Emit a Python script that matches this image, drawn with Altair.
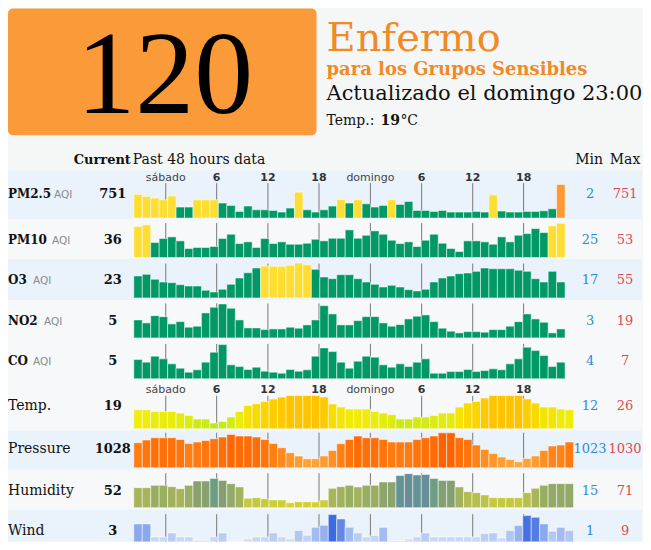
import altair as alt
import pandas as pd

# ---------------- data ----------------
tick_slots = [3.78, 9.8, 15.86, 21.9, 27.98, 34.04, 40.08, 46.1]
tick_labels = ["sábado", "6", "12", "18", "domingo", "6", "12", "18"]
tick_is_day = [True, False, False, False, True, False, False, False]

names = ["PM2.5", "PM10", "O3", "NO2", "CO", "Temp.", "Pressure", "Humidity", "Wind"]
is_aqi = [True, True, True, True, True, False, False, False, False]
current = ["751", "36", "23", "5", "5", "19", "1028", "52", "3"]
mins = ["2", "25", "17", "3", "4", "12", "1023", "15", "1"]
maxs = ["751", "53", "55", "19", "7", "26", "1030", "71", "9"]

pm25 = [23.7, 21.7, 20, 18.3, 22, 11, 11, 18.3, 18.3, 18.3, 15, 12.7, 6.7, 12, 8.3, 8.3, 7.7,
        6, 10, 26, 8.3, 6, 8.3, 12, 18.7, 15, 18.3, 14.3, 11, 12.7, 18.3, 13.7, 16.7, 7.7, 7.7,
        6.7, 7.7, 6, 6, 6, 6.7, 6, 23.3, 7, 6, 6, 6.7, 6.7, 7.3, 9.3, 33.7]
pm25_lvl = ("yyyyy" "gg" "yyy" "ggggggggg" "y" "gggg" "y" "g" "y" "ggg" "y"
            "ggggggggggg" "y" "ggggggg" "o")
pm10 = [31, 32.7, 15, 19, 20.7, 16.7, 9, 10, 10, 11, 19, 23.3, 14, 15.7, 10, 19, 14,
        15.7, 13.3, 13.3, 14.3, 18.3, 16.7, 19.3, 19.3, 27.7, 19.3, 22.3, 26.7, 23.3, 17.3, 14, 15.7, 11, 17.3,
        23.3, 14.3, 9, 6, 16.7, 16.7, 15.7, 13.3, 20.7, 15.7, 22.3, 24, 29, 25, 31.7, 34.3]
pm10_lvl = ("yy" "ggggggggggggggggggggggggggggggggggggggggggggggg" "yy")
o3 = [22, 23.7, 18.7, 16, 15.3, 13.3, 12, 12, 7.7, 6, 8.7, 13.7, 20, 25.3, 30,
      32, 31.7, 31.7, 32.7, 35, 33.3,
      28.7, 21, 19.3, 23.3, 23.3, 19.3, 16, 13.7, 11, 12.7, 11, 8.3, 7, 8.7,
      16, 20, 22, 24.3, 25, 26.7, 30, 29.3, 29.3, 29.3, 27.7, 26.7, 19.3, 16, 26.7, 16]
o3_lvl = ("ggggggggggggggg" "yyyyyy" "gggggggggggggggggggggggggggggg")
no2 = [18, 15, 22.3, 21.3, 14, 16.3, 10.7, 11.7, 25, 30.7, 34, 29.7, 18, 10, 10, 8.3, 9,
       9, 10.7, 9.7, 13, 18, 32.3, 24, 13, 13, 17.3, 21.3, 21.3, 15, 11.7, 13.3, 19, 21.7, 23,
       16.3, 9.7, 6.7, 5, 6.3, 6.3, 5.7, 8.3, 8.3, 11.7, 16.3, 24, 19, 15.7, 5, 9]
no2_lvl = "ggggggggggggggggggggggggggggggggggggggggggggggggggg"
co = [19.3, 16.7, 22.7, 20, 15, 10.7, 6.7, 9, 16.7, 26.7, 34.3, 14, 12.3, 9.3, 11.7, 7.7, 6.7,
      5.7, 9.3, 7.7, 9, 22.7, 31, 27.3, 16.7, 10.7, 17.7, 22.7, 21.7, 14, 11.7, 15, 12.3, 16.7, 20,
      5.7, 5.7, 7.3, 7.3, 9.3, 7.3, 8.3, 10, 9, 15, 20, 31.7, 28.3, 23.3, 12.3, 16.7]
co_lvl = "ggggggggggggggggggggggggggggggggggggggggggggggggggg"
temp = [19, 19, 17.3, 17.3, 17.3, 15.7, 13.3, 9.7, 9.7, 5.7, 7.3, 11.7, 17.3, 23.3, 25, 27.3, 29.7,
        31.7, 33.3, 33.3, 33.3, 33.3, 31.7, 24.7, 21.7, 19.7, 19.7, 19.7, 17.3, 15.7, 14, 9.7, 9.7, 11.7, 11.7,
        13.3, 15.7, 15.7, 21.7, 25.7, 27.3, 30.7, 33.3, 33.3, 33.3, 33.3, 29.7, 25.7, 21.7, 21.7, 19.7, 19]
pressure = [25, 27.7, 30, 30, 30, 28.3, 24.3, 25.7, 27.3, 29, 30.7, 33.3, 31.7, 31.7, 30.7, 28.3, 24.3,
            20, 15, 11.7, 9, 9, 11.7, 17.3, 24, 28.3, 31.7, 30, 30, 28.3, 25.7, 25.7, 25.7, 28.3, 30,
            31.7, 35, 35, 30, 28.3, 22.7, 18.3, 14.3, 10.7, 8.3, 6, 9.3, 11.7, 17.3, 21.7, 22.7, 25.7]
humidity = [20, 20, 22.3, 22.3, 21, 19, 22.3, 26.7, 26.7, 29.3, 27.3, 24, 20.7, 9.3, 10, 9, 7.7,
            7.7, 5, 6, 6, 5.7, 7.7, 19.3, 21, 22.3, 20.7, 22.3, 22.3, 25.7, 25.7, 32.3, 34, 32.7, 33.3,
            29.3, 27.3, 27.3, 20.7, 16, 15, 12.7, 10, 10, 10, 10, 15, 19.3, 22.3, 24, 24, 24]
wind = [24.7, 24.7, 11.7, 11.7, 15.7, 11.7, 11.7, 8.3, 8.3, 11.7, 15.7, 5.7, 3, 9.7, 11.7, 11.7, 15.7,
        11.7, 9.7, 18, 13.3, 21.3, 23.3, 34, 29.7, 21.3, 15.7, 11.7, 13, 21.3, 8, 8, 9.7, 11.7, 15.7,
        11.7, 11.7, 11.7, 11.7, 11.7, 11.7, 15, 15.7, 10.7, 18, 23, 33, 31.3, 24.7, 17.3, 21.3, 18]

series = [pm25, pm10, o3, no2, co, temp, pressure, humidity, wind]
levels = [pm25_lvl, pm10_lvl, o3_lvl, no2_lvl, co_lvl, None, None, None, None]

# ---------------- style / layout ----------------
W = 635
BG = "#f5f7f7"
BLUE = "#eaf3fb"
WHITE = "#f6f8f9"
GREEN, YELLOW, ORANGE = "#009966", "#ffde33", "#ff9933"
SERIF = "DejaVu Serif"
SANS = "DejaVu Sans"

grad = {
    "Temp.": ([5.7, 19, 33.3], ["#bde91e", "#f0ed0a", "#ffc400"]),
    "Pressure": ([6, 35], ["#ffa83c", "#ff6200"]),
    "Humidity": ([5, 20, 27, 34], ["#d8d22e", "#a6b45a", "#88a070", "#6a8c98"]),
    "Wind": ([3, 12, 22, 34], ["#e8eefb", "#c9d7f6", "#a0baf0", "#3c6ae0"]),
}

# absolute page pixels (the view starts at 8, 8)
layout = [
    dict(top=170, bottom=219, base=218, ly=194, tt=35, bg=BLUE, aqi_x=54, tl=178),
    dict(top=219, bottom=259, base=257.5, ly=240, tt=34.5, bg=WHITE, aqi_x=52),
    dict(top=259, bottom=300, base=298, ly=280, tt=34.5, bg=BLUE, aqi_x=33),
    dict(top=300, bottom=340, base=338, ly=321, tt=34.5, bg=WHITE, aqi_x=44),
    dict(top=340, bottom=381, base=379, ly=361, tt=35, bg=WHITE, aqi_x=33),
    dict(top=381, bottom=431, base=429, ly=406, tt=33, bg=WHITE, tl=390),
    dict(top=431, bottom=470, base=468, ly=449, tt=35, bg=BLUE),
    dict(top=470, bottom=510, base=508, ly=491, tt=34.5, bg=WHITE),
    dict(top=510, bottom=542, base=549, ly=531, tt=34.5, bg=BLUE),
]

XS = alt.Scale(domain=[0, 52], range=[126, 566.4])
one = pd.DataFrame({"a": [0]})

MIN_X, MAX_X = 583, 618


def txt(text, x, y, size, color="#111", weight="normal", align="left",
        font=SERIF, baseline="middle"):
    return alt.Chart(one).mark_text(
        text=text, align=align, baseline=baseline, font=font, fontSize=size,
        fontWeight=weight, color=color
    ).encode(x=alt.value(x), y=alt.value(y))


def make_row(i):
    L = layout[i]
    top = L["top"]
    h = L["bottom"] - top
    b = L["base"] - top
    ys = alt.Scale(domain=[0, 35], range=[b, b - 35])
    vals = series[i]
    n = len(vals)
    df = pd.DataFrame({"s": list(range(n)), "e": [k + 1 for k in range(n)],
                       "v": vals, "z": [0] * n})
    layers = []
    layers.append(alt.Chart(one).mark_rect(color=L["bg"]).encode(
        x=alt.value(0), x2=alt.value(W), y=alt.value(0), y2=alt.value(h)))
    tdf = pd.DataFrame({"t": tick_slots, "lab": tick_labels, "day": tick_is_day,
                        "top": [L["tt"]] * len(tick_slots), "z": [0] * len(tick_slots)})
    layers.append(alt.Chart(tdf).mark_rule(color="#777777", strokeWidth=1, clip=True).encode(
        x=alt.X("t:Q", scale=XS, axis=None),
        y=alt.Y("top:Q", scale=ys, axis=None), y2="z:Q"))
    if levels[i] is not None:
        df["lvl"] = list(levels[i])
        color = alt.Color("lvl:N", scale=alt.Scale(domain=["g", "y", "o"],
                                                   range=[GREEN, YELLOW, ORANGE]), legend=None)
    else:
        dom, rng = grad[names[i]]
        color = alt.Color("v:Q", scale=alt.Scale(domain=dom, range=rng, clamp=True), legend=None)
    layers.append(alt.Chart(df).mark_rect(stroke="#ffffff", strokeOpacity=0.5, strokeWidth=1,
                                          clip=True).encode(
        x=alt.X("s:Q", scale=XS, axis=None), x2="e:Q",
        y=alt.Y("v:Q", scale=ys, axis=None), y2="z:Q", color=color))
    if "tl" in L:
        ty = L["tl"] - top
        layers.append(alt.Chart(tdf).transform_filter("datum.day").mark_text(
            font=SANS, fontSize=11, color="#444", baseline="middle").encode(
            x=alt.X("t:Q", scale=XS, axis=None), y=alt.value(ty), text="lab:N"))
        layers.append(alt.Chart(tdf).transform_filter("!datum.day").mark_text(
            font=SANS, fontSize=11, fontWeight="bold", color="#333", baseline="middle").encode(
            x=alt.X("t:Q", scale=XS, axis=None), y=alt.value(ty), text="lab:N"))
    ly = L["ly"] - top
    if is_aqi[i]:
        layers.append(txt(names[i], 0, ly, 12, weight="bold"))
        layers.append(txt("AQI", L["aqi_x"] - 8, ly + 1, 10.5, color="#8a8a8a", font=SANS))
    else:
        layers.append(txt(names[i], 0, ly, 14))
    layers.append(txt(current[i], 105, ly, 13, weight="bold", align="center"))
    layers.append(txt(mins[i], MIN_X, ly, 13, color="#2f8ad6", align="center"))
    layers.append(txt(maxs[i], MAX_X, ly, 13, color="#e0484f", align="center"))
    return alt.layer(*layers).properties(width=W, height=h)


header = alt.layer(
    alt.Chart(one).mark_rect(color="#fb9a39", cornerRadius=5).encode(
        x=alt.value(0), x2=alt.value(309), y=alt.value(0), y2=alt.value(127)),
    txt("120", 157, 105, 118, color="#000", font="Liberation Serif", align="center",
        baseline="alphabetic"),
    txt("Enfermo", 319, 43, 40, color="#f08a26", baseline="alphabetic"),
    txt("para los Grupos Sensibles", 319, 67, 18, color="#f08a26", weight="bold",
        baseline="alphabetic"),
    txt("Actualizado el domingo 23:00", 319, 92, 21, color="#111", baseline="alphabetic"),
    txt("Temp.:", 319, 117, 14, baseline="alphabetic"),
    txt("19", 373, 117, 14, weight="bold", baseline="alphabetic"),
    txt("°C", 393, 117, 14, baseline="alphabetic"),
    txt("Current", 123, 152, 13, weight="bold", align="right"),
    txt("Past 48 hours data", 125, 152, 14),
    txt("Min", MIN_X - 1, 152, 14, align="center"),
    txt("Max", MAX_X, 152, 14, align="center"),
).properties(width=W, height=162)

rows = [make_row(i) for i in range(len(names))]

chart = alt.vconcat(header, *rows, spacing=0).resolve_scale(
    x="independent", y="independent", color="independent"
).properties(background=BG, padding=0).configure_view(stroke=None)

chart.save("out.html", embed_options={"renderer": "svg", "actions": False})
